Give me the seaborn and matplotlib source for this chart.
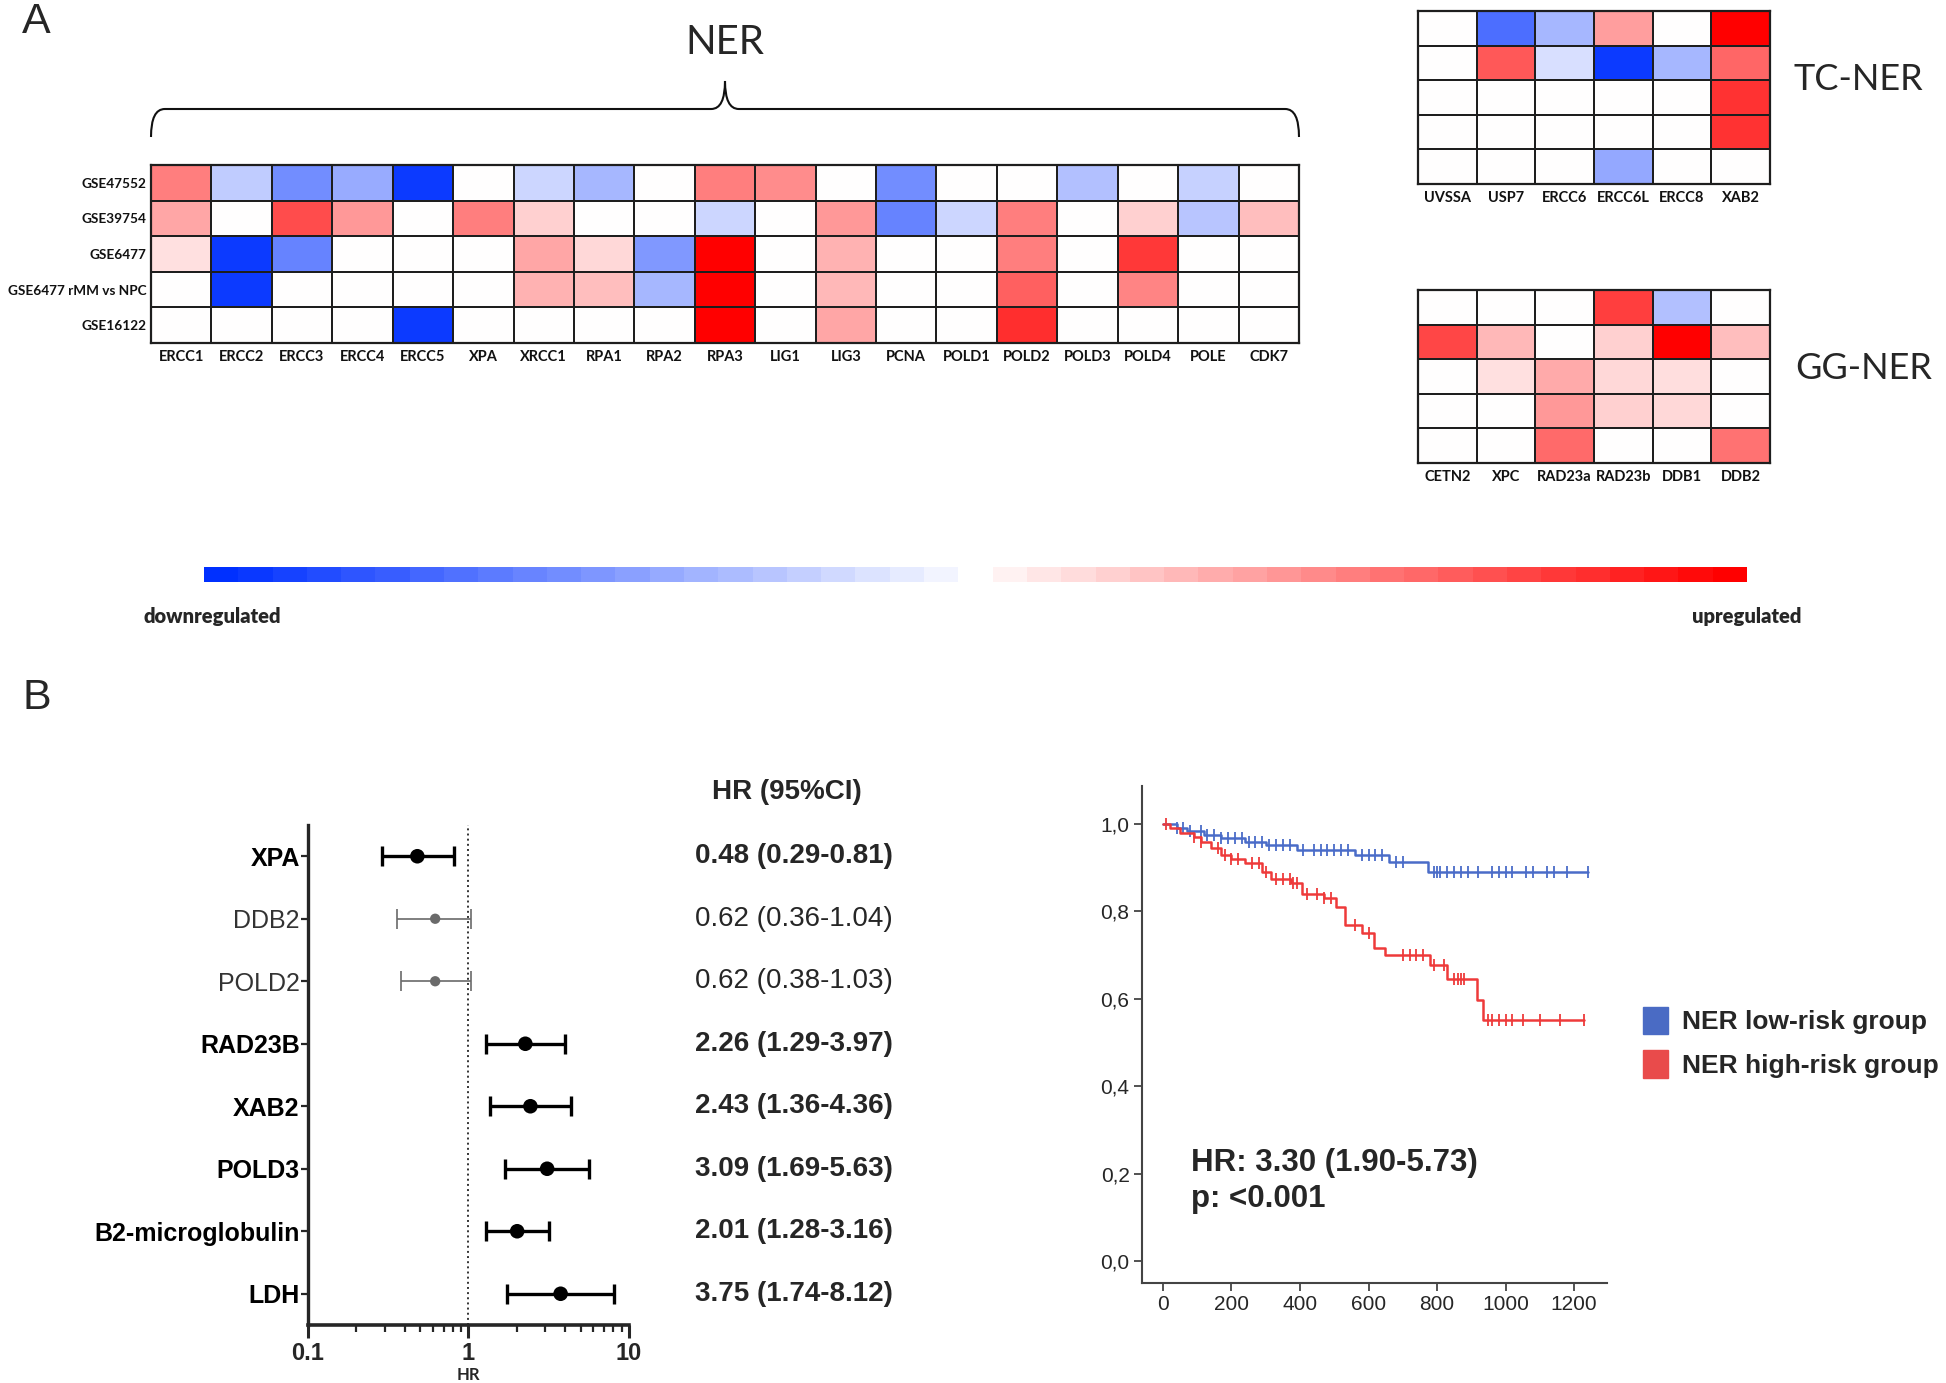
import numpy as np
import pandas as pd
import matplotlib
matplotlib.use('Agg')
import matplotlib.pyplot as plt
import seaborn as sns
from matplotlib.colors import LinearSegmentedColormap
from matplotlib.path import Path
from matplotlib.patches import PathPatch, Patch
from matplotlib.transforms import blended_transform_factory

sns.set_style('ticks')
plt.rcParams['font.family'] = ['Lato', 'DejaVu Sans']
NARROW = ['Liberation Sans Narrow', 'Liberation Sans', 'DejaVu Sans']

# ---- panel A data (scaled expression change, -1 = strongest down, 1 = strongest up)
datasets = ['GSE47552', 'GSE39754', 'GSE6477', 'GSE6477 rMM vs NPC', 'GSE16122']
ner_genes = ['ERCC1', 'ERCC2', 'ERCC3', 'ERCC4', 'ERCC5', 'XPA', 'XRCC1', 'RPA1', 'RPA2', 'RPA3',
             'LIG1', 'LIG3', 'PCNA', 'POLD1', 'POLD2', 'POLD3', 'POLD4', 'POLE', 'CDK7']
ner_vals = [
    [0.50, -0.25, -0.55, -0.40, -0.95, 0, -0.20, -0.35, 0, 0.50, 0.45, 0, -0.55, 0, 0, -0.30, 0, -0.22, 0],
    [0.35, 0, 0.70, 0.40, 0, 0.50, 0.18, 0, 0, -0.20, 0, 0.40, -0.60, -0.20, 0.50, 0, 0.18, -0.28, 0.25],
    [0.12, -0.95, -0.60, 0, 0, 0, 0.35, 0.15, -0.50, 1.0, 0, 0.30, 0, 0, 0.50, 0, 0.78, 0, 0],
    [0, -0.95, 0, 0, 0, 0, 0.30, 0.25, -0.35, 1.0, 0, 0.28, 0, 0, 0.62, 0, 0.48, 0, 0],
    [0, 0, 0, 0, -0.95, 0, 0, 0, 0, 1.0, 0, 0.35, 0, 0, 0.82, 0, 0, 0, 0],
]
tc_genes = ['UVSSA', 'USP7', 'ERCC6', 'ERCC6L', 'ERCC8', 'XAB2']
tc_vals = [
    [0, -0.70, -0.35, 0.38, 0, 1.0],
    [0, 0.65, -0.15, -0.95, -0.35, 0.60],
    [0, 0, 0, 0, 0, 0.80],
    [0, 0, 0, 0, 0, 0.80],
    [0, 0, 0, -0.42, 0, 0],
]
gg_genes = ['CETN2', 'XPC', 'RAD23a', 'RAD23b', 'DDB1', 'DDB2']
gg_vals = [
    [0, 0, 0, 0.75, -0.30, 0],
    [0.72, 0.28, 0, 0.18, 1.0, 0.25],
    [0, 0.12, 0.33, 0.15, 0.13, 0],
    [0, 0, 0.40, 0.18, 0.15, 0],
    [0, 0, 0.58, 0, 0, 0.55],
]

# ---- panel B data
forest_labels = ['XPA', 'DDB2', 'POLD2', 'RAD23B', 'XAB2', 'POLD3', 'B2-microglobulin', 'LDH']
forest_hr = [0.48, 0.62, 0.62, 2.26, 2.43, 3.09, 2.01, 3.75]
forest_lo = [0.29, 0.36, 0.38, 1.29, 1.36, 1.69, 1.28, 1.74]
forest_hi = [0.81, 1.04, 1.03, 3.97, 4.36, 5.63, 3.16, 8.12]
forest_sig = [True, False, False, True, True, True, True, True]

km_low_t = [0, 40, 70, 120, 170, 240, 300, 390, 560, 660, 775, 1240]
km_low_s = [1.0, 0.99, 0.983, 0.975, 0.967, 0.96, 0.953, 0.94, 0.93, 0.913, 0.89, 0.89]
km_high_t = [0, 20, 50, 90, 110, 140, 170, 200, 240, 290, 315, 375, 405, 470, 505, 530, 580,
             615, 648, 780, 830, 918, 935, 1228]
km_high_s = [1.0, 0.99, 0.98, 0.97, 0.96, 0.945, 0.93, 0.92, 0.91, 0.89, 0.875, 0.865, 0.84,
             0.83, 0.81, 0.77, 0.75, 0.717, 0.70, 0.678, 0.645, 0.597, 0.551, 0.551]
censor_low = [40, 60, 80, 110, 130, 150, 170, 190, 210, 230, 250, 270, 290, 310, 330, 350, 370,
              410, 440, 460, 480, 500, 520, 540, 580, 600, 620, 640, 680, 700, 790, 800, 810, 830,
              850, 870, 890, 920, 960, 980, 1000, 1020, 1060, 1080, 1120, 1140, 1180, 1240]
censor_high = [10, 90, 110, 160, 180, 200, 220, 260, 280, 300, 330, 350, 370, 380, 390, 420, 450,
               470, 490, 560, 600, 700, 720, 740, 760, 790, 820, 850, 860, 870, 880, 950, 960, 980,
               1000, 1020, 1050, 1100, 1160, 1228]
km_groups = ['NER low-risk group', 'NER high-risk group']
km_colors = ['#4a6cc8', '#ee3a3a']

cmap = LinearSegmentedColormap.from_list('updown', ['#0030ff', '#ffffff', '#ff0000'])

W, H = 1946, 1383
fig = plt.figure(figsize=(W / 100, H / 100), dpi=100)


def rect(x0, y0, x1, y1):
    return [x0 / W, 1 - y1 / H, (x1 - x0) / W, (y1 - y0) / H]


def heat(r, vals, cols, rows=None):
    ax = fig.add_axes(r)
    df = pd.DataFrame(vals, columns=cols)
    sns.heatmap(df, ax=ax, cmap=cmap, vmin=-1, vmax=1, cbar=False, linewidths=1.4,
                linecolor='#1e1e1e', xticklabels=True, yticklabels=False)
    for s in ax.spines.values():
        s.set_visible(True)
        s.set_linewidth(1.6)
        s.set_color('#1e1e1e')
    ax.tick_params(axis='x', length=0, pad=5)
    ax.tick_params(axis='y', length=0, pad=3)
    ax.set_xticklabels(cols, rotation=0, fontsize=10.5, fontweight='bold', color='#111')
    if rows:
        ax.set_yticks(np.arange(len(rows)) + 0.5)
        ax.set_yticklabels(rows, rotation=0, fontsize=9.8, fontweight='bold', color='#111')
    return ax


heat(rect(151, 165, 1299, 343), ner_vals, ner_genes, datasets)
heat(rect(1418, 11, 1770, 184), tc_vals, tc_genes)
heat(rect(1418, 290, 1770, 463), gg_vals, gg_genes)

fig.text(725 / W, 1 - 43 / H, 'NER', fontsize=29, ha='center', va='center')
fig.text(1858 / W, 1 - 80 / H, 'TC-NER', fontsize=26, ha='center', va='center')
fig.text(1864 / W, 1 - 369 / H, 'GG-NER', fontsize=26, ha='center', va='center')
fig.text(22 / W, 1 - 2 / H, 'A', fontsize=31, ha='left', va='top', family=NARROW[1:])
fig.text(22 / W, 1 - 678 / H, 'B', fontsize=31, ha='left', va='top', family=NARROW[1:])

# curly brace over the NER heatmap
ax_b = fig.add_axes(rect(151, 81, 1299, 137))
ax_b.set_xlim(0, 1)
ax_b.set_ylim(0, 1)
ax_b.axis('off')
verts = [(0, 0), (0, 0.5), (0.012, 0.5), (0.488, 0.5), (0.5, 0.5), (0.5, 1.0),
         (0.5, 0.5), (0.512, 0.5), (0.988, 0.5), (1, 0.5), (1, 0)]
codes = [Path.MOVETO, Path.CURVE3, Path.CURVE3, Path.LINETO, Path.CURVE3, Path.CURVE3,
         Path.CURVE3, Path.CURVE3, Path.LINETO, Path.CURVE3, Path.CURVE3]
ax_b.add_patch(PathPatch(Path(verts, codes), fill=False, lw=1.5, ec='#111', clip_on=False))

# colour key
ax_c = fig.add_axes(rect(204, 567, 1747, 582))
steps = np.r_[np.linspace(-1, -0.05, 22), np.nan, np.linspace(0.05, 1, 22)]
sns.heatmap(steps[None, :], ax=ax_c, cmap=cmap, vmin=-1, vmax=1, cbar=False,
            xticklabels=False, yticklabels=False)
fig.text(212 / W, 1 - 616 / H, 'downregulated', fontsize=14.5, fontweight='heavy', ha='center', va='center')
fig.text(1747 / W, 1 - 616 / H, 'upregulated', fontsize=14.5, fontweight='heavy', ha='center', va='center')

# ---- forest plot
ax_f = fig.add_axes(rect(308, 825, 629, 1325))
ypos = np.arange(len(forest_labels))
for i in range(len(forest_labels)):
    col = 'black' if forest_sig[i] else '#6a6a6a'
    ax_f.errorbar(forest_hr[i], ypos[i],
                  xerr=[[forest_hr[i] - forest_lo[i]], [forest_hi[i] - forest_hr[i]]],
                  fmt='none', ecolor=col, elinewidth=2.4 if forest_sig[i] else 1.2,
                  capsize=7, capthick=2.4 if forest_sig[i] else 1.2)
fdf = pd.DataFrame({'hr': forest_hr, 'y': ypos, 'sig': forest_sig})
sns.scatterplot(data=fdf[fdf.sig], x='hr', y='y', ax=ax_f, color='black', s=110,
                edgecolor='none', zorder=5)
sns.scatterplot(data=fdf[~fdf.sig], x='hr', y='y', ax=ax_f, color='#6a6a6a', s=55,
                edgecolor='none', zorder=5)
ax_f.set_xscale('log')
ax_f.set_xlim(0.1, 10)
ax_f.set_ylim(len(forest_labels) - 0.5, -0.5)
ax_f.axvline(1, ls=':', color='#333', lw=1.4)
ax_f.set_xticks([0.1, 1, 10])
ax_f.set_xticklabels(['0.1', '1', '10'], fontsize=17, fontweight='bold', family=NARROW)
ax_f.set_yticks(ypos)
ax_f.set_yticklabels(forest_labels, fontsize=18, family=NARROW)
for lab, sig in zip(ax_f.get_yticklabels(), forest_sig):
    lab.set_fontweight('bold' if sig else 'normal')
    lab.set_color('black' if sig else '#333')
ax_f.set_xlabel('HR', fontsize=12, fontweight='bold', labelpad=2)
ax_f.set_ylabel('')
sns.despine(ax=ax_f)
ax_f.spines['left'].set_linewidth(2.4)
ax_f.spines['bottom'].set_linewidth(2.6)
ax_f.tick_params(axis='x', which='major', length=9, width=2.2, pad=3)
ax_f.tick_params(axis='x', which='minor', length=5, width=1.6)
ax_f.tick_params(axis='y', length=5, width=1.6, pad=1)

tr = blended_transform_factory(fig.transFigure, ax_f.transData)
for i in range(len(forest_labels)):
    txt = f'{forest_hr[i]:.2f} ({forest_lo[i]:.2f}-{forest_hi[i]:.2f})'
    ax_f.text(695 / W, ypos[i], txt, transform=tr, fontsize=20, family=NARROW,
              fontweight='bold' if forest_sig[i] else 'normal', ha='left', va='center')
fig.text(787 / W, 1 - 792 / H, 'HR (95%CI)', fontsize=20, family=NARROW, fontweight='bold',
         ha='center', va='center')

# ---- Kaplan-Meier
ax_k = fig.add_axes(rect(1142, 786, 1607, 1283))
km = pd.concat([
    pd.DataFrame({'time': km_low_t, 'surv': km_low_s, 'group': km_groups[0]}),
    pd.DataFrame({'time': km_high_t, 'surv': km_high_s, 'group': km_groups[1]}),
])
sns.lineplot(data=km, x='time', y='surv', hue='group', palette=km_colors, drawstyle='steps-post',
             estimator=None, lw=1.8, ax=ax_k, legend=False)
for t, s, c, col in [(km_low_t, km_low_s, censor_low, km_colors[0]),
                     (km_high_t, km_high_s, censor_high, km_colors[1])]:
    idx = np.searchsorted(t, c, side='right') - 1
    sns.scatterplot(x=c, y=np.array(s)[idx], marker='|', s=70, color=col, linewidth=1.3, ax=ax_k)
ax_k.set_xlim(-61, 1296)
ax_k.set_ylim(-0.05, 1.087)
ax_k.set_xticks(range(0, 1201, 200))
ax_k.set_yticks([0, 0.2, 0.4, 0.6, 0.8, 1.0])
ax_k.set_yticklabels(['0,0', '0,2', '0,4', '0,6', '0,8', '1,0'], fontsize=15, family=NARROW)
ax_k.set_xticklabels([str(v) for v in range(0, 1201, 200)], fontsize=15, family=NARROW)
ax_k.set_xlabel('')
ax_k.set_ylabel('')
sns.despine(ax=ax_k)
for s in ['left', 'bottom']:
    ax_k.spines[s].set_linewidth(1.5)
    ax_k.spines[s].set_color('#444')
ax_k.tick_params(length=6, width=1.3, color='#444', pad=3)
ax_k.text(82, 0.224, 'HR: 3.30 (1.90-5.73)', fontsize=22.5, fontweight='bold', family=NARROW,
          ha='left', va='center')
ax_k.text(82, 0.142, 'p: <0.001', fontsize=22.5, fontweight='bold', family=NARROW,
          ha='left', va='center')
fig.legend(handles=[Patch(color='#4a6bc4'), Patch(color='#e94b4b')], labels=km_groups,
           loc='upper left', bbox_to_anchor=(1632 / W, 1 - 996 / H), frameon=False,
           prop={'family': NARROW, 'weight': 'bold', 'size': 19}, handlelength=0.95,
           handleheight=1.25, labelspacing=0.6, handletextpad=0.55, borderaxespad=0)

fig.savefig('out.png', dpi=100)
